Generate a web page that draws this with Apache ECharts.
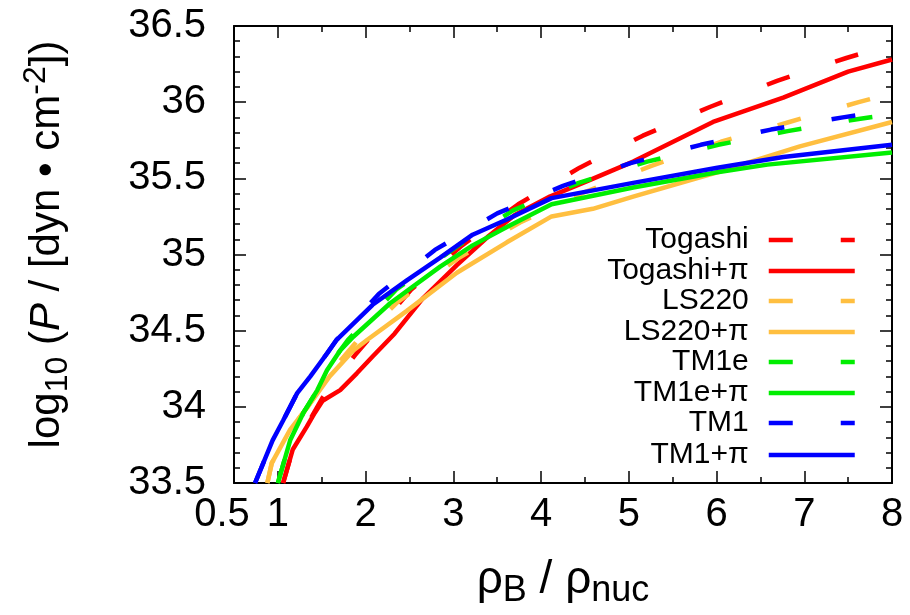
<!DOCTYPE html>
<html>
<head>
<meta charset="utf-8">
<script src="https://cdn.jsdelivr.net/npm/echarts@6/dist/echarts.min.js"></script>
<style>html,body{margin:0;padding:0;background:#fff}#c{width:910px;height:615px}</style>
</head>
<body>
<div id="c"></div>
<script>
// ---- data (rho_B/rho_nuc, log10 P) ----
const togashi = [[1.06,33.5],[1.17,33.72],[1.33,33.88],[1.51,34.06],[1.88,34.34],[2.52,34.77],[3.1,35.06],[3.74,35.33],[4.44,35.57],[5.16,35.78],[5.93,35.97],[6.69,36.14],[7.48,36.29],[8.0,36.38]];
const togashiPi = [[1.06,33.5],[1.17,33.72],[1.33,33.87],[1.42,33.96],[1.51,34.04],[1.71,34.11],[1.9,34.22],[2.08,34.33],[2.33,34.48],[2.65,34.71],[3.04,34.93],[3.4,35.12],[3.7,35.26],[4.1,35.38],[4.56,35.49],[5.05,35.61],[5.96,35.87],[6.76,36.03],[7.5,36.2],[8.0,36.28]];
const ls220 = [[0.88,33.5],[0.93,33.63],[1.14,33.85],[1.34,34.0],[1.59,34.22],[1.9,34.43],[2.37,34.69],[3.04,34.97],[3.76,35.21],[4.5,35.41],[5.25,35.58],[6.05,35.74],[6.83,35.87],[7.62,36.0],[8.0,36.06]];
const ls220Pi = [[0.88,33.5],[0.93,33.63],[1.14,33.85],[1.34,34.0],[1.59,34.2],[1.86,34.37],[2.02,34.44],[2.47,34.63],[3.04,34.88],[3.61,35.08],[4.12,35.25],[4.59,35.3],[5.05,35.38],[6.01,35.54],[6.95,35.71],[8.0,35.87]];
const tm1e = [[1.0,33.5],[1.14,33.78],[1.29,33.96],[1.45,34.11],[1.56,34.24],[1.71,34.37],[1.8,34.44],[2.35,34.77],[3.06,35.06],[3.68,35.29],[4.43,35.47],[5.21,35.61],[6.02,35.72],[6.81,35.81],[7.62,35.89],[8.0,35.92]];
const tm1ePi = [[1.0,33.5],[1.14,33.78],[1.29,33.96],[1.45,34.11],[1.56,34.24],[1.71,34.37],[1.86,34.46],[2.28,34.68],[2.85,34.92],[3.22,35.06],[3.61,35.18],[4.12,35.33],[5.05,35.44],[6.01,35.54],[6.58,35.59],[8.0,35.67]];
const tm1 = [[0.74,33.5],[0.94,33.78],[1.06,33.91],[1.22,34.09],[1.37,34.2],[1.56,34.35],[1.67,34.44],[2.15,34.74],[2.79,35.03],[3.5,35.27],[4.25,35.45],[5.02,35.6],[5.82,35.72],[6.62,35.82],[7.44,35.9],[8.0,35.95]];
const tm1Pi = [[0.74,33.5],[0.94,33.78],[1.06,33.91],[1.22,34.09],[1.37,34.2],[1.56,34.35],[1.67,34.44],[2.08,34.67],[2.47,34.83],[2.85,34.98],[3.22,35.13],[3.61,35.23],[4.12,35.37],[5.05,35.47],[6.01,35.57],[6.76,35.64],[8.0,35.72]];

const seriesNames = ['Togashi','Togashi+\u03c0','LS220','LS220+\u03c0','TM1e','TM1e+\u03c0','TM1','TM1+\u03c0'];
const seriesData = [togashi, togashiPi, ls220, ls220Pi, tm1e, tm1ePi, tm1, tm1Pi];
const seriesColors = ['#ff0000','#ff0000','#ffbf40','#ffbf40','#00ee00','#00ee00','#0000ff','#0000ff'];
const seriesDashed = [true,false,true,false,true,false,true,false];
const xMajorTicks = [1,2,3,4,5,6,7,8];

const FONT = "'Liberation Sans', Arial, Helvetica, sans-serif";
const LW = 4.5;
const chart = echarts.init(document.getElementById('c'), null, {renderer:'canvas'});

const xBase = {
  type:'value', min:0.5, max:8, interval:0.5,
  splitLine:{show:false},
};
const tickStyle = {color:'#000', width:1.5};

const legendCenters = [240,271,301,332,362,393,423,455];

const option = {
  animation:false,
  backgroundColor:'#fff',
  grid:{left:234, right:18, top:26, bottom:132, containLabel:false},
  xAxis:[
    Object.assign({}, xBase, {
      position:'bottom',
      axisLine:{show:true, lineStyle:{color:'#000', width:2}},
      axisTick:{show:true, inside:true, length:6, lineStyle:tickStyle},
      axisLabel:{show:true, margin:12, fontSize:40, fontFamily:FONT, color:'#000',
        rich:{ f:{fontSize:40, fontFamily:FONT, color:'#000', padding:[0,24,0,0]} },
        formatter:function(v){
          if (Math.abs(v-0.5)<1e-9) return '{f|0.5}';
          return Math.abs(v-Math.round(v))<1e-9 ? String(v) : '';
        }},
      name:'{g|\u03c1}{s|B}{t| / }{g|\u03c1}{s|nuc}',
      nameLocation:'middle', nameGap:68,
      nameTextStyle:{fontFamily:FONT, color:'#000',
        rich:{
          g:{fontSize:46, fontFamily:FONT, lineHeight:58, color:'#000'},
          t:{fontSize:46, fontFamily:FONT, lineHeight:58, color:'#000'},
          s:{fontSize:36, fontFamily:FONT, lineHeight:36, verticalAlign:'bottom', color:'#000'}
        }}
    }),
    Object.assign({}, xBase, {
      position:'bottom',
      axisLine:{show:false},
      axisTick:{show:true, inside:true, length:12, lineStyle:tickStyle, customValues:xMajorTicks},
      axisLabel:{show:false}
    }),
    Object.assign({}, xBase, {
      position:'top',
      axisLine:{show:true, lineStyle:{color:'#000', width:2}},
      axisTick:{show:true, inside:true, length:6, lineStyle:tickStyle},
      axisLabel:{show:false}
    }),
    Object.assign({}, xBase, {
      position:'top',
      axisLine:{show:false},
      axisTick:{show:true, inside:true, length:12, lineStyle:tickStyle, customValues:xMajorTicks},
      axisLabel:{show:false}
    })
  ],
  yAxis:[
    {
      type:'value', min:33.5, max:36.5, interval:0.5, position:'left',
      splitLine:{show:false},
      axisLine:{show:true, lineStyle:{color:'#000', width:2}},
      axisTick:{show:true, inside:true, length:12, lineStyle:tickStyle},
      minorTick:{show:true, splitNumber:5, length:6, lineStyle:tickStyle},
      axisLabel:{show:true, margin:28, fontSize:40, fontFamily:FONT, color:'#000'},
      name:'{t|log}{s|10}{t| (}{i|P}{t| / [dyn \u2022 cm}{p|-2}{t|])}',
      nameLocation:'middle', nameRotate:90, nameGap:160,
      nameTextStyle:{fontFamily:FONT, color:'#000', padding:[0,0,0,20],
        rich:{
          t:{fontSize:42, fontFamily:FONT, lineHeight:54, color:'#000'},
          i:{fontSize:42, fontFamily:FONT, fontStyle:'italic', lineHeight:54, color:'#000'},
          s:{fontSize:32, fontFamily:FONT, lineHeight:32, verticalAlign:'bottom', color:'#000'},
          p:{fontSize:32, fontFamily:FONT, lineHeight:32, verticalAlign:'top', color:'#000'}
        }}
    },
    {
      type:'value', min:33.5, max:36.5, interval:0.5, position:'right',
      splitLine:{show:false},
      axisLine:{show:true, lineStyle:{color:'#000', width:2}},
      axisTick:{show:true, inside:true, length:12, lineStyle:tickStyle},
      minorTick:{show:true, splitNumber:5, length:6, lineStyle:tickStyle},
      axisLabel:{show:false}
    }
  ],
  legend: seriesNames.map(function(n, i){
    return {
      data:[n], right:53, top:legendCenters[i]-15, orient:'horizontal', align:'right',
      padding:0, itemWidth:86, itemHeight:4, selectedMode:false,
      itemStyle:{opacity:0},
      lineStyle:{width:LW},
      textStyle:{fontSize:30, fontFamily:FONT, color:'#000', lineHeight:30, padding:[0,15,0,0]}
    };
  }),
  series: seriesNames.map(function(n, i){
    return {
      name:n, type:'line', data:seriesData[i], xAxisIndex:0, yAxisIndex:0,
      showSymbol:false, symbol:'none', smooth:false, clip:true,
      color:seriesColors[i],
      lineStyle:{color:seriesColors[i], width:LW, type: seriesDashed[i] ? [24,48] : 'solid', cap:'butt'},
      emphasis:{disabled:true}
    };
  })
};
chart.setOption(option);
</script>
</body>
</html>
